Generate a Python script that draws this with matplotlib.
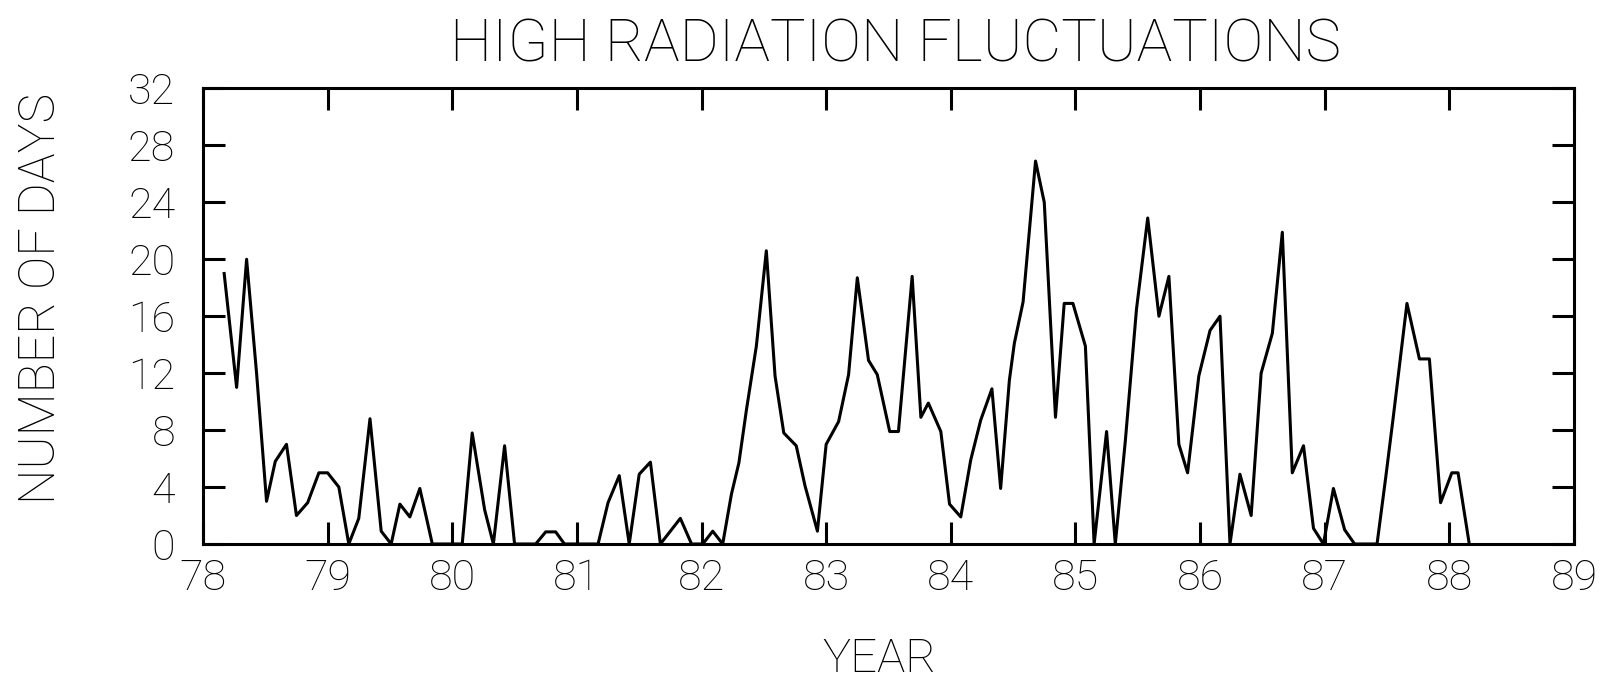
import numpy as np
import matplotlib
matplotlib.use("Agg")
import matplotlib.pyplot as plt

# monthly counts (decimal year, days)
years = [78.17, 78.27, 78.35, 78.43, 78.51, 78.58, 78.67, 78.75, 78.84, 78.93,
         79.00, 79.09, 79.17, 79.25, 79.34, 79.43, 79.51, 79.58, 79.66, 79.74,
         79.84, 80.08, 80.16, 80.26, 80.33, 80.42, 80.50, 80.67, 80.75, 80.83,
         80.90, 81.17, 81.25, 81.34, 81.42, 81.50, 81.59, 81.67, 81.83, 81.92,
         82.01, 82.09, 82.17, 82.24, 82.30, 82.36, 82.44, 82.52, 82.59, 82.66,
         82.76, 82.83, 82.93, 83.00, 83.10, 83.18, 83.25, 83.34, 83.41, 83.51,
         83.58, 83.69, 83.76, 83.82, 83.92, 83.99, 84.08, 84.16, 84.24, 84.33,
         84.40, 84.47, 84.51, 84.58, 84.68, 84.75, 84.84, 84.91, 84.98, 85.08,
         85.15, 85.25, 85.32, 85.40, 85.49, 85.58, 85.67, 85.75, 85.83, 85.90,
         85.99, 86.08, 86.16, 86.24, 86.32, 86.41, 86.49, 86.58, 86.66, 86.74,
         86.83, 86.91, 86.99, 87.07, 87.16, 87.24, 87.42, 87.49, 87.55, 87.66,
         87.76, 87.84, 87.93, 88.02, 88.07, 88.16]
days = [19, 11, 20, 12, 3, 5.8, 7, 2, 2.9, 5,
        5, 4, 0, 1.8, 8.8, 0.9, 0, 2.8, 1.9, 3.9,
        0, 0, 7.8, 2.4, 0, 6.9, 0, 0, 0.85, 0.85,
        0, 0, 2.9, 4.8, 0, 4.9, 5.75, 0, 1.8, 0,
        0, 0.9, 0, 3.5, 5.7, 9.4, 13.9, 20.6, 11.8, 7.8,
        6.9, 4.1, 0.9, 7.0, 8.6, 11.9, 18.7, 12.9, 11.9, 7.9,
        7.9, 18.8, 8.9, 9.9, 7.9, 2.8, 1.9, 5.9, 8.7, 10.9,
        3.9, 11.5, 14.1, 17, 26.9, 24, 8.9, 16.9, 16.9, 13.9,
        0, 7.9, 0, 7.2, 16.5, 22.9, 16, 18.8, 7, 5,
        11.8, 15, 16, 0, 4.9, 2, 12, 14.8, 21.9, 5,
        6.9, 1.1, 0, 3.9, 1, 0, 0, 4.7, 8.9, 16.9,
        13, 13, 2.9, 5, 5, 0]

x_ticks = list(range(78, 90))
y_ticks = list(range(0, 33, 4))

plt.rcParams['font.family'] = ['Roboto', 'DejaVu Sans']
plt.rcParams['font.weight'] = 'light'

fig = plt.figure(figsize=(16.02, 6.81), dpi=100)
ax = fig.add_axes([0.1267, 0.2012, 0.8558, 0.6689])

ax.plot(years, days, color='black', linewidth=2.2, clip_on=False)

ax.set_xlim(78, 89)
ax.set_ylim(0, 32)
ax.set_xticks(x_ticks)
ax.set_yticks(y_ticks)
ax.set_xticklabels([str(v) for v in x_ticks])
ax.set_yticklabels([str(v) for v in y_ticks])

for s in ax.spines.values():
    s.set_linewidth(2.2)

ax.tick_params(axis='both', direction='in', length=16, width=2.2,
               top=True, right=True, labelsize=31)
ax.tick_params(axis='x', pad=10)
ax.tick_params(axis='y', pad=20)

fig.text(0.559, 0.934, "HIGH RADIATION FLUCTUATIONS", fontsize=43,
         ha='center', va='center')
fig.text(0.026, 0.562, "NUMBER OF DAYS", fontsize=36, rotation=90,
         ha='center', va='center')
fig.text(0.549, 0.032, "YEAR", fontsize=34, ha='center', va='center')

fig.savefig("out.png", dpi=100, facecolor='white')
